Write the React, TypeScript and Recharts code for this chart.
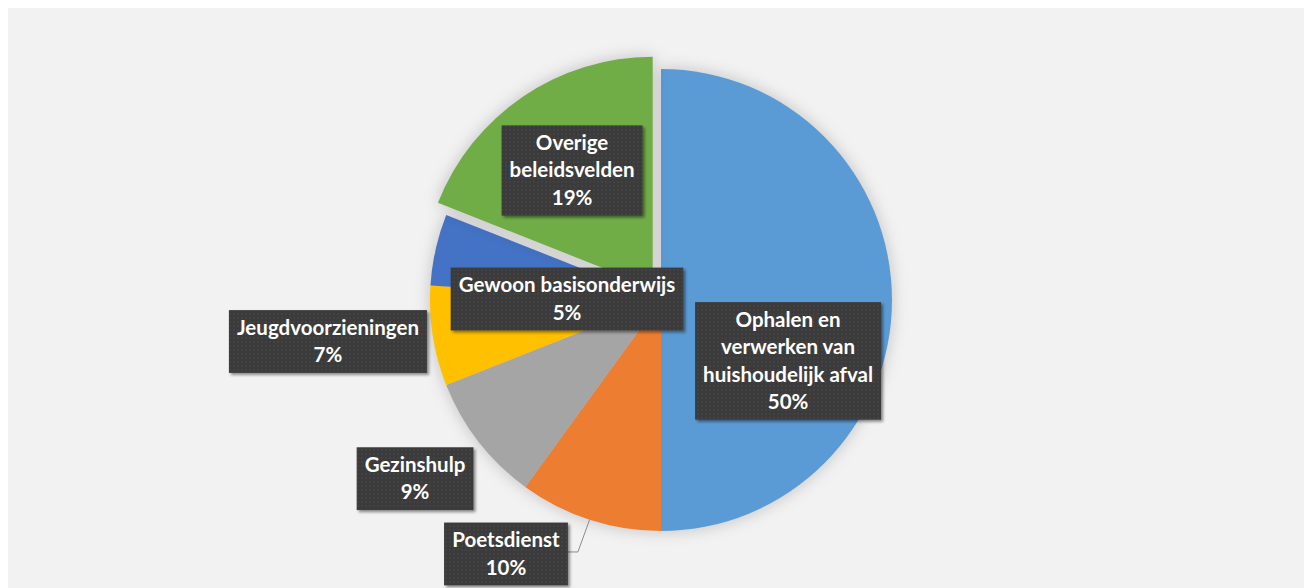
import React, { useLayoutEffect, useRef, useState } from 'react'
import { PieChart, Pie, Cell } from 'recharts'

// aandeel per beleidsveld (%)
const categories = [
  'Ophalen en verwerken van huishoudelijk afval',
  'Poetsdienst',
  'Gezinshulp',
  'Jeugdvoorzieningen',
  'Gewoon basisonderwijs',
  'Overige beleidsvelden',
]
const shares = [50, 10, 9, 7, 5, 19]
const labelLines = [
  ['Ophalen en', 'verwerken van', 'huishoudelijk afval'],
  ['Poetsdienst'],
  ['Gezinshulp'],
  ['Jeugdvoorzieningen'],
  ['Gewoon basisonderwijs'],
  ['Overige', 'beleidsvelden'],
]
const COLORS = ['#5B9BD5', '#ED7D31', '#A5A5A5', '#FFC000', '#4472C4', '#70AD47']
const EXPLODED = 5

// label placement: radius factor + angle tweak relative to slice mid angle
const placement = [
  { k: 0.61, da: -25.6 },
  { k: 1.288, da: -13.4, leader: true },
  { k: 1.316, da: -1.8 },
  { k: 1.453, da: -1.9 },
  { k: 0.407, da: 12 },
  { k: 0.616, da: 0.3 },
]

const data = categories.map((name, i) => ({ name, value: shares[i] }))

const W = 1304
const H = 580
const CX = 653
const CY = 292
const R = 231
const EXPLODE = 14.8
const FONT = 20.5
const LH = 27.4

const RAD = Math.PI / 180
const polar = (cx: number, cy: number, r: number, a: number) => ({
  x: cx + r * Math.cos(-a * RAD),
  y: cy + r * Math.sin(-a * RAD),
})

type Pt = { x: number; y: number }

function LabelBox({ x, y, lines, leaderEnd }: { x: number; y: number; lines: string[]; leaderEnd?: Pt }) {
  const ref = useRef<SVGTextElement>(null)
  const [w, setW] = useState(0)
  useLayoutEffect(() => {
    if (ref.current) setW(ref.current.getBBox().width)
  }, [])
  const n = lines.length
  const boxW = w + 16
  const boxH = n * LH + 8
  const right = x + boxW / 2
  return (
    <g>
      {leaderEnd && w > 0 && (
        <polyline
          points={`${right},${y - 2} ${right + 10},${y - 2} ${leaderEnd.x},${leaderEnd.y}`}
          fill="none"
          stroke="#8c8c8c"
          strokeWidth={1}
        />
      )}
      <rect
        x={x - boxW / 2}
        y={y - boxH / 2}
        width={boxW}
        height={boxH}
        fill="url(#dots)"
        filter="url(#boxShadow)"
      />
      <text
        ref={ref}
        textAnchor="middle"
        fill="#fff"
        fontFamily="Lato, 'Open Sans', sans-serif"
        fontWeight={700}
        fontSize={FONT}
      >
        {lines.map((l, i) => (
          <tspan key={i} x={x} y={y + (i - (n - 1) / 2) * LH + 7}>
            {l}
          </tspan>
        ))}
      </text>
    </g>
  )
}

const makeLabel = (only: (i: number) => boolean) => (props: any) => {
  const { cx, cy, midAngle, outerRadius, index } = props
  if (!only(index)) return null
  const p = placement[index]
  const pos = polar(cx, cy, outerRadius * p.k, midAngle + p.da)
  const lines = [...labelLines[index], `${Math.round(props.percent * 100)}%`]
  const end = p.leader ? polar(cx, cy, outerRadius, midAngle) : undefined
  return <LabelBox key={`lbl-${index}`} x={pos.x} y={pos.y} lines={lines} leaderEnd={end} />
}

export default function App() {
  const total = shares.reduce((s, v) => s + v, 0)
  const before = shares.slice(0, EXPLODED).reduce((s, v) => s + v, 0)
  const mid = 90 - (360 * (before + shares[EXPLODED] / 2)) / total
  const ex = polar(CX, CY, EXPLODE, mid)

  return (
    <div style={{ width: W, height: H, background: '#F2F2F2', position: 'relative' }}>
      <style>{`.recharts-pie { filter: drop-shadow(0 0 8px rgba(0,0,0,0.2)); }`}</style>
      <svg width={0} height={0} style={{ position: 'absolute' }}>
        <defs>
          <pattern id="dots" width="4" height="4" patternUnits="userSpaceOnUse">
            <rect width="4" height="4" fill="#3a3a3a" />
            <circle cx="2" cy="2" r="0.8" fill="#4b4b4b" />
          </pattern>
          <filter id="boxShadow" x="-20%" y="-20%" width="140%" height="140%">
            <feDropShadow dx="2" dy="2" stdDeviation="1.5" floodColor="#000" floodOpacity="0.45" />
          </filter>
        </defs>
      </svg>
      <PieChart width={W} height={H} margin={{ top: 0, right: 0, bottom: 0, left: 0 }}>
        <Pie
          data={data}
          dataKey="value"
          nameKey="name"
          cx={CX}
          cy={CY}
          outerRadius={R}
          startAngle={90}
          endAngle={-270}
          stroke="none"
          labelLine={false}
          label={makeLabel((i) => i !== EXPLODED)}
          isAnimationActive={false}
        >
          {data.map((d, i) => (
            <Cell key={`c-${i}`} fill={i === EXPLODED ? 'none' : COLORS[i]} />
          ))}
        </Pie>
        <Pie
          data={data}
          dataKey="value"
          nameKey="name"
          cx={ex.x}
          cy={ex.y}
          outerRadius={R}
          startAngle={90}
          endAngle={-270}
          stroke="none"
          labelLine={false}
          label={makeLabel((i) => i === EXPLODED)}
          isAnimationActive={false}
        >
          {data.map((d, i) => (
            <Cell key={`e-${i}`} fill={i === EXPLODED ? COLORS[i] : 'none'} />
          ))}
        </Pie>
      </PieChart>
    </div>
  )
}
